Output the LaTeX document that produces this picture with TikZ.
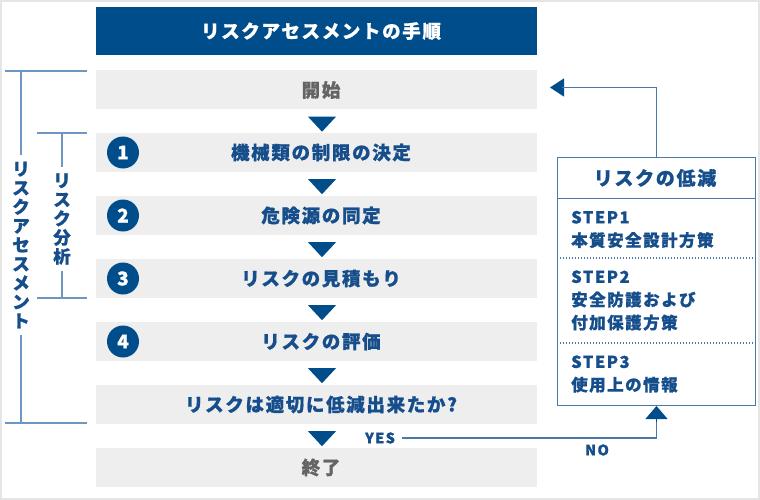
\documentclass[tikz,border=0pt]{standalone}
\usepackage{fontspec}
\setmainfont{Noto Sans CJK JP}[LetterSpace=9, BoldFeatures={FakeBold=0.8}]
\usetikzlibrary{arrows.meta,calc}
\definecolor{hdblue}{RGB}{0,77,140}
\definecolor{txblue}{RGB}{22,78,140}
\definecolor{lnblue}{RGB}{75,120,170}
\definecolor{brblue}{RGB}{110,150,195}
\definecolor{boxgray}{RGB}{238,238,238}
\definecolor{txgray}{RGB}{100,100,100}
\newcommand{\fs}[1]{\fontsize{#1}{#1}\selectfont}
\newcommand{\downtri}[1]{\fill[hdblue] ($(#1.south)+(-8.5,7)$) -- ($(#1.south)+(19.5,7)$) -- ($(#1.south)+(5.5,22)$) -- cycle;}
\tikzset{
  stepbox/.style={rectangle, fill=boxgray, minimum width=441pt, minimum height=39pt, inner sep=0pt,
    font=\bfseries\fs{18.5}, text=txblue, execute at begin node={\hspace*{9pt}}},
  titlebox/.style={rectangle, fill=hdblue, minimum width=441pt, minimum height=48pt, inner sep=0pt,
    font=\bfseries\fs{18.5}, text=white, execute at begin node={\hspace*{9pt}}},
  numc/.style={circle, fill=hdblue, minimum size=32pt, inner sep=0pt, text=white, font=\bfseries\fs{19}},
  vlab/.style={align=center, inner xsep=0pt, inner ysep=6pt, text=txblue, font=\bfseries\fs{17.5}, execute at begin node={\baselineskip=19pt}},
  brk/.style={draw=brblue, line width=1.4pt},
  conn/.style={draw=lnblue, line width=1.2pt},
  steptxt/.style={anchor=west, align=left, inner sep=0pt, text=txblue, font=\bfseries\fs{16.5}, execute at begin node={\baselineskip=23pt}},
  yn/.style={inner sep=0pt, text=txblue, font=\bfseries\fs{14.5}}
}
\begin{document}
\begin{tikzpicture}[x=1pt,y=-1pt]
\useasboundingbox (0,0) rectangle (760,500);
\draw[line width=2pt, draw=black!10] (1,1) rectangle (759,499);

\node[titlebox] (title) at (316.5,31) {リスクアセスメントの手順};
\node[stepbox, text=txgray] (start) at (316.5,90) {開始};
\node[stepbox] (s1) at (316.5,152.5) {機械類の制限の決定};
\node[stepbox] (s2) at (316.5,215.5) {危険源の同定};
\node[stepbox] (s3) at (316.5,278.5) {リスクの見積もり};
\node[stepbox] (s4) at (316.5,341.5) {リスクの評価};
\node[stepbox] (dec) at (316.5,404.5) {リスクは適切に低減出来たか?};
\node[stepbox, text=txgray] (end) at (316.5,467.5) {終了};

\downtri{start}
\downtri{s1}
\downtri{s2}
\downtri{s3}
\downtri{s4}
\downtri{dec}

\node[numc] (n1) at (123,152.5) {1};
\node[numc] (n2) at (123,215.5) {2};
\node[numc] (n3) at (123,278.5) {3};
\node[numc] (n4) at (123,341.5) {4};

% outer bracket
\node[vlab] (vout) at (21,245) {リ\\ス\\ク\\ア\\セ\\ス\\メ\\ン\\ト};
\coordinate (ot) at (21,71);
\coordinate (ob) at (21,423);
\draw[brk] (5,71) -- (87,71);
\draw[brk] (5,423) -- (87,423);
\draw[brk] (ot) -- (vout.north);
\draw[brk] (vout.south) -- (ob);

% inner bracket
\node[vlab] (vin) at (62,219) {リ\\ス\\ク\\分\\析};
\coordinate (it) at (62,133);
\coordinate (ib) at (62,298);
\draw[brk] (37,133) -- (87,133);
\draw[brk] (37,298) -- (87,298);
\draw[brk] (it) -- (vin.north);
\draw[brk] (vin.south) -- (ib);

% risk reduction panel
\node[draw=lnblue, line width=1pt, minimum width=198pt, minimum height=248pt, inner sep=0pt, anchor=north west] (red) at (557,157) {};
\node[inner sep=0pt, text=txblue, font=\bfseries\fs{19}] (redt) at (655,178) {リスクの低減};
\draw[lnblue, line width=1pt] ($(red.north west)+(0,41)$) -- ($(red.north east)+(0,41)$);
\draw[lnblue, line width=1.3pt, dash pattern=on 1.2pt off 1.8pt] ($(red.north west)+(0,101)$) -- ($(red.north east)+(0,101)$);
\draw[lnblue, line width=1.3pt, dash pattern=on 1.2pt off 1.8pt] ($(red.north west)+(0,186)$) -- ($(red.north east)+(0,186)$);
\node[steptxt] (st1) at (571,229.5) {STEP1\\本質安全設計方策};
\node[steptxt] (st2) at (571,300.5) {STEP2\\安全防護および\\付加保護方策};
\node[steptxt] (st3) at (571,374) {STEP3\\使用上の情報};

% feedback arrow
\coordinate (fb) at (550,87.5);
\draw[conn, -{Triangle[length=14pt,width=18pt]}, hdblue] (red.north) |- (fb);
\draw[conn] (red.north) |- ($(fb)+(12,0)$);

% YES / NO
\node[yn] (yes) at (380,438) {YES};
\node[yn] (no) at (597,450) {NO};
\coordinate (ys) at ($(yes.east)+(7,0)$);
\draw[conn] (ys) -| ($(red.south)+(0,15)$);
\draw[conn, -{Triangle[length=13pt,width=22pt]}, hdblue] ($(red.south)+(0,16)$) -- (red.south);
\end{tikzpicture}
\end{document}
